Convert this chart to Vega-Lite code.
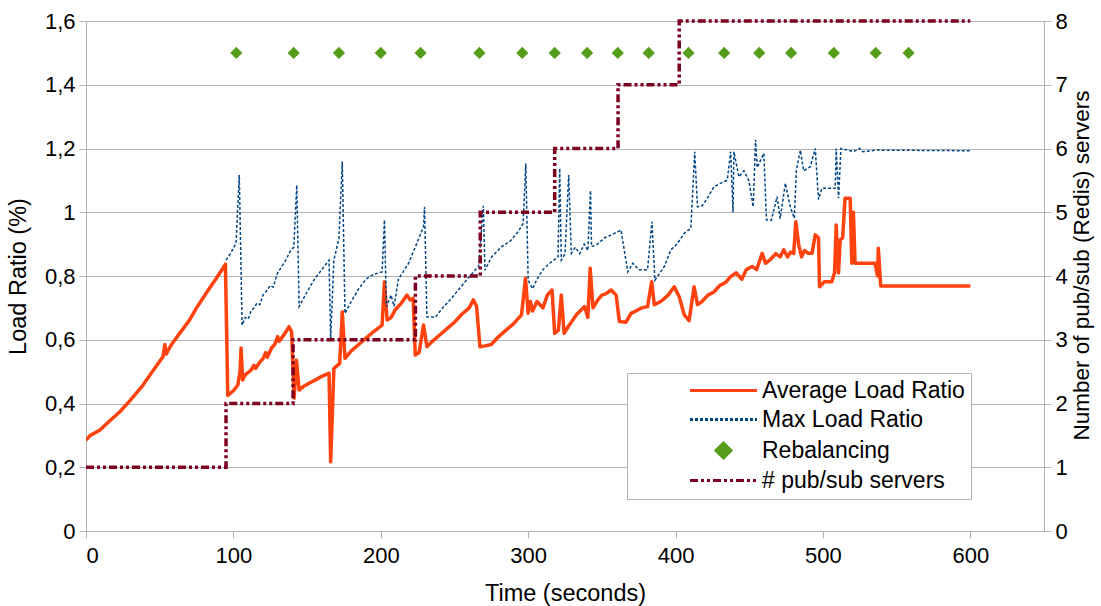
{
  "$schema": "https://vega.github.io/schema/vega-lite/v6.json",
  "width": 958,
  "height": 510,
  "autosize": {"type": "none"},
  "padding": {"left": 86, "top": 21, "right": 57, "bottom": 75},
  "config": {
    "font": "Liberation Sans",
    "view": {"stroke": null},
    "axis": {
      "labelFont": "Liberation Sans",
      "labelFontSize": 22,
      "labelColor": "#000000",
      "titleFont": "Liberation Sans",
      "titleFontSize": 23.5,
      "titleFontWeight": "normal",
      "titleColor": "#000000",
      "domainColor": "#b3b3b3",
      "tickColor": "#b3b3b3",
      "gridColor": "#b3b3b3",
      "tickSize": 7
    }
  },
  "datasets": {
    "avg": [
      {"t": 0, "v": 0.285}, {"t": 3, "v": 0.3}, {"t": 9.5, "v": 0.317}, {"t": 16, "v": 0.345},
      {"t": 23, "v": 0.374}, {"t": 30, "v": 0.41}, {"t": 38.7, "v": 0.458}, {"t": 45, "v": 0.5},
      {"t": 52.3, "v": 0.547}, {"t": 53.5, "v": 0.585}, {"t": 54.5, "v": 0.555}, {"t": 55.5, "v": 0.565},
      {"t": 58, "v": 0.585}, {"t": 63.5, "v": 0.62}, {"t": 70, "v": 0.66}, {"t": 75, "v": 0.7},
      {"t": 81.5, "v": 0.746}, {"t": 88, "v": 0.79}, {"t": 93, "v": 0.825}, {"t": 94.6, "v": 0.837},
      {"t": 96.2, "v": 0.425}, {"t": 100, "v": 0.44}, {"t": 103, "v": 0.458}, {"t": 104.5, "v": 0.5},
      {"t": 105.2, "v": 0.574}, {"t": 106.3, "v": 0.474}, {"t": 108, "v": 0.49}, {"t": 112, "v": 0.505},
      {"t": 114, "v": 0.52}, {"t": 115, "v": 0.51}, {"t": 118, "v": 0.53}, {"t": 120, "v": 0.54},
      {"t": 122, "v": 0.56}, {"t": 123, "v": 0.545}, {"t": 126, "v": 0.575}, {"t": 128, "v": 0.585},
      {"t": 130, "v": 0.61}, {"t": 131, "v": 0.595}, {"t": 135, "v": 0.62}, {"t": 137.8, "v": 0.641}, {"t": 139.5, "v": 0.625},
      {"t": 141.2, "v": 0.417}, {"t": 142.8, "v": 0.536}, {"t": 144.6, "v": 0.442}, {"t": 148, "v": 0.455},
      {"t": 152, "v": 0.465}, {"t": 156, "v": 0.475}, {"t": 160, "v": 0.485}, {"t": 164.9, "v": 0.495},
      {"t": 166, "v": 0.217}, {"t": 168.2, "v": 0.51}, {"t": 172.1, "v": 0.526}, {"t": 173.9, "v": 0.688},
      {"t": 175.7, "v": 0.542}, {"t": 180, "v": 0.565}, {"t": 185, "v": 0.585}, {"t": 190, "v": 0.605},
      {"t": 195, "v": 0.625}, {"t": 200.9, "v": 0.646}, {"t": 202.5, "v": 0.782}, {"t": 204.3, "v": 0.662},
      {"t": 207, "v": 0.67}, {"t": 210, "v": 0.695}, {"t": 214, "v": 0.715}, {"t": 217.8, "v": 0.74},
      {"t": 220, "v": 0.725}, {"t": 222, "v": 0.73}, {"t": 223.4, "v": 0.552}, {"t": 226, "v": 0.56},
      {"t": 229, "v": 0.646}, {"t": 231.3, "v": 0.578}, {"t": 235, "v": 0.595}, {"t": 240, "v": 0.615},
      {"t": 245, "v": 0.635}, {"t": 250, "v": 0.655}, {"t": 255, "v": 0.68}, {"t": 260, "v": 0.7},
      {"t": 262.8, "v": 0.725}, {"t": 265, "v": 0.705}, {"t": 267.3, "v": 0.578}, {"t": 270, "v": 0.58},
      {"t": 275, "v": 0.585}, {"t": 280, "v": 0.61}, {"t": 285, "v": 0.63}, {"t": 290, "v": 0.65},
      {"t": 295.5, "v": 0.678}, {"t": 298.2, "v": 0.793}, {"t": 300, "v": 0.683}, {"t": 301.5, "v": 0.72},
      {"t": 303, "v": 0.69}, {"t": 306, "v": 0.72}, {"t": 310, "v": 0.7}, {"t": 313, "v": 0.74},
      {"t": 316.2, "v": 0.756}, {"t": 318, "v": 0.62}, {"t": 320.5, "v": 0.63}, {"t": 322.5, "v": 0.74},
      {"t": 324.4, "v": 0.62}, {"t": 327, "v": 0.64}, {"t": 330, "v": 0.66}, {"t": 333, "v": 0.68},
      {"t": 338.3, "v": 0.704}, {"t": 340.5, "v": 0.67}, {"t": 342.1, "v": 0.824}, {"t": 344, "v": 0.7},
      {"t": 347.3, "v": 0.725}, {"t": 350, "v": 0.74}, {"t": 353, "v": 0.745}, {"t": 356.3, "v": 0.756},
      {"t": 359.7, "v": 0.74}, {"t": 361.9, "v": 0.657}, {"t": 366.4, "v": 0.655}, {"t": 369.8, "v": 0.683},
      {"t": 373, "v": 0.69}, {"t": 377, "v": 0.7}, {"t": 381, "v": 0.704}, {"t": 383.8, "v": 0.782},
      {"t": 385.6, "v": 0.71}, {"t": 390, "v": 0.72}, {"t": 395, "v": 0.74}, {"t": 399.1, "v": 0.766},
      {"t": 402.5, "v": 0.735}, {"t": 405.9, "v": 0.678}, {"t": 409.2, "v": 0.66}, {"t": 412.6, "v": 0.766},
      {"t": 414.9, "v": 0.71}, {"t": 418, "v": 0.72}, {"t": 422, "v": 0.74}, {"t": 426, "v": 0.75},
      {"t": 430, "v": 0.77}, {"t": 434, "v": 0.78}, {"t": 437.4, "v": 0.798}, {"t": 441, "v": 0.81},
      {"t": 445, "v": 0.79}, {"t": 448, "v": 0.82}, {"t": 452, "v": 0.83}, {"t": 455, "v": 0.82},
      {"t": 458.8, "v": 0.871}, {"t": 461, "v": 0.84}, {"t": 464, "v": 0.85}, {"t": 468, "v": 0.87},
      {"t": 471, "v": 0.86}, {"t": 473.4, "v": 0.882}, {"t": 476, "v": 0.86}, {"t": 478, "v": 0.875},
      {"t": 480.2, "v": 0.871}, {"t": 481.6, "v": 0.97}, {"t": 483.6, "v": 0.897}, {"t": 485.5, "v": 0.86},
      {"t": 487.5, "v": 0.88}, {"t": 490, "v": 0.871}, {"t": 492.6, "v": 0.871}, {"t": 494.8, "v": 0.929},
      {"t": 497, "v": 0.92}, {"t": 497.7, "v": 0.766}, {"t": 501, "v": 0.782}, {"t": 506, "v": 0.782},
      {"t": 507.9, "v": 0.81}, {"t": 509, "v": 0.96}, {"t": 510.6, "v": 0.81}, {"t": 511.7, "v": 0.913},
      {"t": 513.4, "v": 0.92}, {"t": 515, "v": 1.044}, {"t": 518.5, "v": 1.044}, {"t": 519.6, "v": 0.84},
      {"t": 520.7, "v": 1.0}, {"t": 521.8, "v": 0.84}, {"t": 535.4, "v": 0.84}, {"t": 537, "v": 0.8},
      {"t": 537.6, "v": 0.887}, {"t": 539.2, "v": 0.769}, {"t": 600, "v": 0.769}
    ],
    "max": [
      {"t": 95, "v": 0.85}, {"t": 98, "v": 0.87}, {"t": 101.8, "v": 0.903}, {"t": 104, "v": 1.117},
      {"t": 105.9, "v": 0.646}, {"t": 108, "v": 0.67}, {"t": 110, "v": 0.665}, {"t": 112, "v": 0.69},
      {"t": 114, "v": 0.7}, {"t": 116, "v": 0.715}, {"t": 118, "v": 0.71}, {"t": 120, "v": 0.74},
      {"t": 122, "v": 0.75}, {"t": 125, "v": 0.77}, {"t": 127, "v": 0.765}, {"t": 130, "v": 0.81},
      {"t": 135, "v": 0.845}, {"t": 139, "v": 0.882}, {"t": 141, "v": 0.89}, {"t": 143, "v": 1.085}, {"t": 144.6, "v": 0.704},
      {"t": 150, "v": 0.75}, {"t": 155, "v": 0.79}, {"t": 160, "v": 0.82}, {"t": 164.9, "v": 0.85},
      {"t": 166, "v": 0.604}, {"t": 168.2, "v": 0.85}, {"t": 171.6, "v": 0.918}, {"t": 173.9, "v": 1.159},
      {"t": 175.7, "v": 0.683}, {"t": 180, "v": 0.72}, {"t": 185, "v": 0.76}, {"t": 190, "v": 0.79},
      {"t": 195, "v": 0.805}, {"t": 200.9, "v": 0.813}, {"t": 202.5, "v": 0.976}, {"t": 203.8, "v": 0.704},
      {"t": 207, "v": 0.74}, {"t": 209, "v": 0.705}, {"t": 212, "v": 0.79}, {"t": 218.9, "v": 0.84},
      {"t": 224.5, "v": 0.903}, {"t": 229, "v": 0.955}, {"t": 229.7, "v": 1.017}, {"t": 231.3, "v": 0.672},
      {"t": 236.9, "v": 0.67}, {"t": 242, "v": 0.7}, {"t": 248, "v": 0.73}, {"t": 257.2, "v": 0.782},
      {"t": 264, "v": 0.819}, {"t": 266.4, "v": 0.83}, {"t": 269.6, "v": 1.02}, {"t": 270.7, "v": 0.818},
      {"t": 275.2, "v": 0.86}, {"t": 282, "v": 0.892}, {"t": 288, "v": 0.91}, {"t": 293.2, "v": 0.939},
      {"t": 296.6, "v": 0.965}, {"t": 298.4, "v": 1.153}, {"t": 300, "v": 0.787}, {"t": 303, "v": 0.76},
      {"t": 306, "v": 0.79}, {"t": 310, "v": 0.82}, {"t": 314.6, "v": 0.84}, {"t": 320.3, "v": 0.86},
      {"t": 321.4, "v": 1.138}, {"t": 322.5, "v": 0.85}, {"t": 325, "v": 0.87}, {"t": 327.5, "v": 1.117},
      {"t": 329.3, "v": 0.871}, {"t": 332, "v": 0.89}, {"t": 335, "v": 0.87}, {"t": 338, "v": 0.9},
      {"t": 340.5, "v": 0.88}, {"t": 342.3, "v": 1.068}, {"t": 343, "v": 0.892}, {"t": 347, "v": 0.9},
      {"t": 352, "v": 0.92}, {"t": 357, "v": 0.93}, {"t": 363, "v": 0.944}, {"t": 367.6, "v": 0.813},
      {"t": 371, "v": 0.84}, {"t": 375, "v": 0.82}, {"t": 378.8, "v": 0.819}, {"t": 381, "v": 0.82},
      {"t": 384, "v": 0.97}, {"t": 386, "v": 0.787}, {"t": 392.3, "v": 0.829}, {"t": 396.8, "v": 0.882},
      {"t": 401, "v": 0.9}, {"t": 405.9, "v": 0.934}, {"t": 410.4, "v": 0.95}, {"t": 413, "v": 1.19},
      {"t": 414.9, "v": 1.017}, {"t": 418, "v": 1.02}, {"t": 421, "v": 1.04}, {"t": 426.1, "v": 1.08},
      {"t": 430, "v": 1.09}, {"t": 435.1, "v": 1.101}, {"t": 437.4, "v": 1.19}, {"t": 439, "v": 1.0},
      {"t": 439.6, "v": 1.19}, {"t": 443, "v": 1.111}, {"t": 446.4, "v": 1.13}, {"t": 449.7, "v": 1.1},
      {"t": 452.7, "v": 1.017}, {"t": 454.3, "v": 1.227}, {"t": 455.4, "v": 1.14}, {"t": 459.9, "v": 1.185},
      {"t": 461.7, "v": 0.976}, {"t": 465, "v": 0.975}, {"t": 468.9, "v": 1.049}, {"t": 471, "v": 0.98},
      {"t": 474.5, "v": 1.091}, {"t": 477.7, "v": 1.02}, {"t": 480.6, "v": 0.981}, {"t": 482, "v": 1.133},
      {"t": 484.7, "v": 1.195}, {"t": 486.9, "v": 1.13}, {"t": 491.4, "v": 1.143}, {"t": 494.8, "v": 1.2},
      {"t": 497, "v": 1.04}, {"t": 499.3, "v": 1.075}, {"t": 508.3, "v": 1.075}, {"t": 509, "v": 1.2},
      {"t": 510.6, "v": 1.044}, {"t": 512.2, "v": 1.2}, {"t": 520.7, "v": 1.19}, {"t": 525, "v": 1.2},
      {"t": 527, "v": 1.19}, {"t": 536.5, "v": 1.195}, {"t": 600, "v": 1.193}
    ],
    "rebal": [
      {"t": 102, "v": 1.5}, {"t": 140.9, "v": 1.5}, {"t": 171.6, "v": 1.5}, {"t": 200, "v": 1.5},
      {"t": 227, "v": 1.5}, {"t": 266.9, "v": 1.5}, {"t": 296, "v": 1.5}, {"t": 318, "v": 1.5},
      {"t": 340, "v": 1.5}, {"t": 360.8, "v": 1.5}, {"t": 381.8, "v": 1.5}, {"t": 408.8, "v": 1.5},
      {"t": 433, "v": 1.5}, {"t": 456.8, "v": 1.5}, {"t": 478.4, "v": 1.5}, {"t": 507.4, "v": 1.5},
      {"t": 535.8, "v": 1.5}, {"t": 558.1, "v": 1.5}
    ],
    "servers": [
      {"t": 0, "n": 1}, {"t": 95, "n": 2}, {"t": 140.5, "n": 3}, {"t": 223.5, "n": 4},
      {"t": 267.5, "n": 5}, {"t": 318, "n": 6}, {"t": 361, "n": 7}, {"t": 402.5, "n": 8},
      {"t": 600, "n": 8}
    ]
  },
  "resolve": {"scale": {"y": "independent"}},
  "layer": [
    {
      "data": {"name": "avg"},
      "mark": {"type": "line", "strokeWidth": 3.5, "strokeJoin": "round", "clip": true},
      "encoding": {
        "x": {"field": "t", "type": "quantitative", "scale": {"domain": [0, 650], "nice": false},
          "axis": {"values": [0, 100, 200, 300, 400, 500, 600], "title": "Time (seconds)", "grid": false, "labelPadding": 7, "titlePadding": 15}},
        "y": {"field": "v", "type": "quantitative", "scale": {"domain": [0, 1.6], "nice": false},
          "axis": {"values": [0, 0.2, 0.4, 0.6, 0.8, 1, 1.2, 1.4, 1.6], "format": ".1~f", "labelExpr": "replace(datum.label, '.', ',')", "title": "Load Ratio (%)", "grid": true, "labelPadding": 4, "titlePadding": 14}},
        "color": {"datum": "Average Load Ratio", "type": "nominal",
          "scale": {"domain": ["Average Load Ratio", "Max Load Ratio", "Rebalancing", "# pub/sub servers"], "range": ["#ff420e", "#004586", "#579d1c", "#7e0021"]},
          "legend": {
            "orient": "none", "legendX": 541, "legendY": 352, "title": null, "columns": 1,
            "labelFont": "Liberation Sans", "labelFontSize": 23, "labelColor": "#000000", "labelLimit": 500,
            "labelExpr": "datum.label + '\u00a0\u00a0\u00a0\u00a0\u00a0\u00a0\u00a0\u00a0\u00a0\u00a0'",
            "symbolSize": 400, "symbolType": "stroke", "symbolOffset": 79, "labelOffset": 27,
            "rowPadding": 5, "padding": 6, "strokeColor": "#b3b3b3", "fillColor": "#ffffff",
            "encode": {"symbols": {"update": {
              "shape": {"signal": "datum.value === 'Rebalancing' ? 'M0,-0.75L0.75,0L0,0.75L-0.75,0Z' : 'M-3.35,0H3.35'"},
              "size": {"value": 400},
              "fill": {"signal": "datum.value === 'Rebalancing' ? '#579d1c' : 'transparent'"},
              "stroke": {"signal": "datum.value === 'Average Load Ratio' ? '#ff420e' : datum.value === 'Max Load Ratio' ? '#004586' : datum.value === 'Rebalancing' ? 'transparent' : '#7e0021'"},
              "strokeWidth": {"value": 3},
              "strokeDash": {"signal": "datum.value === 'Max Load Ratio' ? [3, 2] : datum.value === '# pub/sub servers' ? [8, 3, 3, 3, 3, 3] : [1, 0]"},
              "opacity": {"value": 1}
            }}}
          }}
      }
    },
    {
      "data": {"name": "max"},
      "mark": {"type": "line", "strokeWidth": 1.5, "strokeDash": [3, 2]},
      "encoding": {
        "x": {"field": "t", "type": "quantitative"},
        "y": {"field": "v", "type": "quantitative", "scale": {"domain": [0, 1.6], "nice": false}, "axis": null},
        "color": {"datum": "Max Load Ratio", "type": "nominal"}
      }
    },
    {
      "data": {"name": "rebal"},
      "mark": {"type": "point", "shape": "diamond", "filled": true, "size": 150, "opacity": 1},
      "encoding": {
        "x": {"field": "t", "type": "quantitative"},
        "y": {"field": "v", "type": "quantitative", "scale": {"domain": [0, 1.6], "nice": false}, "axis": null},
        "color": {"datum": "Rebalancing", "type": "nominal"}
      }
    },
    {
      "data": {"name": "servers"},
      "mark": {"type": "line", "interpolate": "step-after", "strokeWidth": 3.5, "strokeDash": [8, 3, 3, 3, 3, 3]},
      "encoding": {
        "x": {"field": "t", "type": "quantitative"},
        "y": {"field": "n", "type": "quantitative", "scale": {"domain": [0, 8], "nice": false},
          "axis": {"orient": "right", "values": [0, 1, 2, 3, 4, 5, 6, 7, 8], "title": "Number of pub/sub (Redis) servers", "titleAngle": 270, "titleBaseline": "top", "titleFontSize": 22.5, "titleY": 244, "grid": false, "labelPadding": 4, "titlePadding": 3}},
        "color": {"datum": "# pub/sub servers", "type": "nominal"}
      }
    }
  ]
}
